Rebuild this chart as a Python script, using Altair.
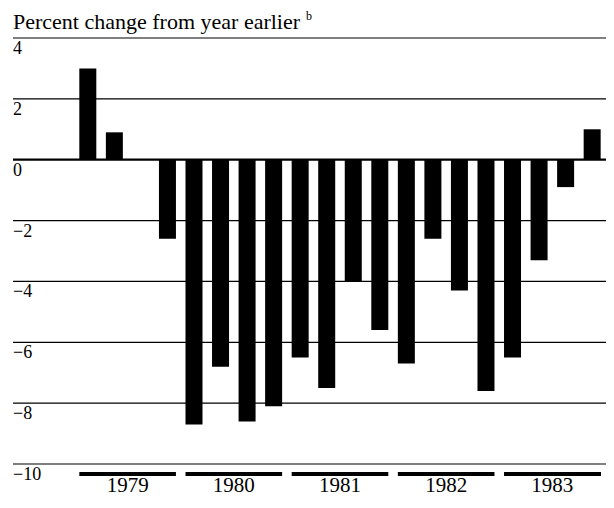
import altair as alt
import pandas as pd

# ---- data ----
quarter_index = list(range(20))
values = [3.0, 0.9, 0.0, -2.6,
          -8.7, -6.8, -8.6, -8.1,
          -6.5, -7.5, -4.0, -5.6,
          -6.7, -2.6, -4.3, -7.6,
          -6.5, -3.3, -0.9, 1.0]
years = ["1979", "1980", "1981", "1982", "1983"]
y_ticks = [4, 2, 0, -2, -4, -6, -8, -10]
y_tick_labels = ["4", "2", "0", "\u22122", "\u22124", "\u22126", "\u22128", "\u221210"]
title_text = "Percent change from year earlier"
note_text = "b"

FONT = "Liberation Serif"
W, H = 593, 426
XMIN, XMAX = -2.63, 19.333
BAR_HALF = 0.32

xs = alt.Scale(domain=[XMIN, XMAX], nice=False, zero=False)
ys = alt.Scale(domain=[-10, 4], nice=False, zero=False)

bars_df = pd.DataFrame({"q": quarter_index, "v": values})
grid_df = pd.DataFrame({"t": [t for t in y_ticks if t != 0]})
zero_df = pd.DataFrame({"t": [0]})
lab_df = pd.DataFrame({"t": y_ticks, "lab": y_tick_labels})
yr_df = pd.DataFrame({
    "year": years,
    "s": [4 * k - BAR_HALF for k in range(len(years))],
    "e": [4 * k + 3 + BAR_HALF if k < len(years) - 1 else XMAX for k in range(len(years))],
    "c": [4 * k + 1.5 for k in range(len(years))],
})

grid = alt.Chart(grid_df).mark_rule(color="black", strokeWidth=1.2).encode(
    y=alt.Y("t:Q", scale=ys, axis=None)
)
zero = alt.Chart(zero_df).mark_rule(color="black", strokeWidth=2.2).encode(
    y=alt.Y("t:Q", scale=ys, axis=None)
)
bars = alt.Chart(bars_df).mark_bar(color="black", size=17).encode(
    x=alt.X("q:Q", scale=xs, axis=None),
    y=alt.Y("v:Q", scale=ys, axis=None),
    y2=alt.datum(0),
)
labels = alt.Chart(lab_df).mark_text(
    align="left", baseline="alphabetic", dy=16, font=FONT, fontSize=18, color="black"
).encode(
    x=alt.value(0),
    y=alt.Y("t:Q", scale=ys, axis=None),
    text="lab:N",
)
yr_rules = alt.Chart(yr_df).mark_rule(color="black", strokeWidth=4).encode(
    x=alt.X("s:Q", scale=xs, axis=None),
    x2="e:Q",
    y=alt.value(H + 10),
)
yr_text = alt.Chart(yr_df).mark_text(
    baseline="alphabetic", font=FONT, fontSize=21, color="black"
).encode(
    x=alt.X("c:Q", scale=xs, axis=None),
    y=alt.value(H + 28),
    text="year:N",
)
title = alt.Chart(pd.DataFrame({"t": [title_text]})).mark_text(
    align="left", baseline="alphabetic", font=FONT, fontSize=22, color="black"
).encode(x=alt.value(0), y=alt.value(-9), text="t:N")
note = alt.Chart(pd.DataFrame({"t": [note_text]})).mark_text(
    align="left", baseline="alphabetic", font=FONT, fontSize=12, color="black"
).encode(x=alt.value(293), y=alt.value(-18), text="t:N")

chart = alt.layer(grid, bars, zero, labels, yr_rules, yr_text, title, note).properties(
    width=W,
    height=H,
    padding={"left": 5, "top": 30, "right": 0, "bottom": 34},
    autosize=alt.AutoSizeParams(type="none"),
).configure_view(stroke=None)

chart.save("out.html", embed_options={"renderer": "svg", "actions": False})
